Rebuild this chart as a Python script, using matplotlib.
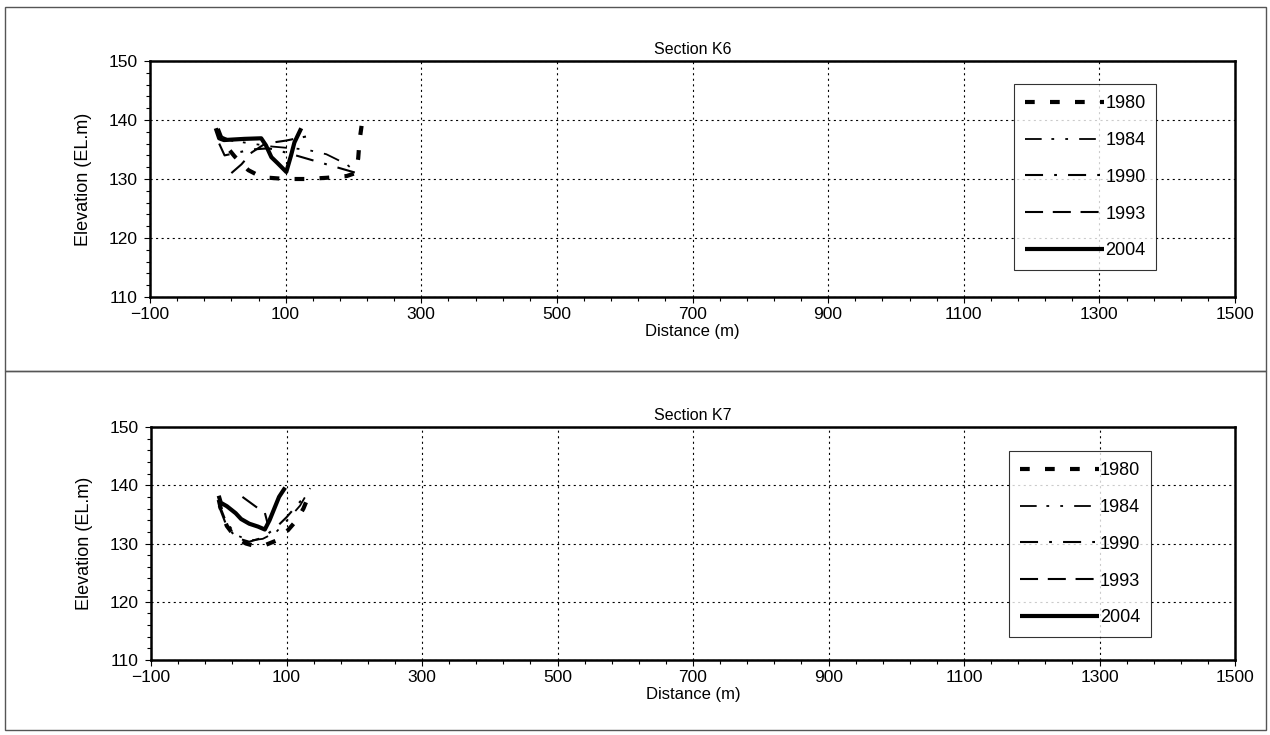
"""
plot.py - Cross sections K6 / K7, surveyed bed profiles per year.
"""

import matplotlib
matplotlib.use("Agg")
import matplotlib.pyplot as plt
from matplotlib import ticker
from matplotlib.patches import Rectangle

plt.rcParams['font.family'] = ['Liberation Sans', 'DejaVu Sans']
plt.rcParams['lines.scale_dashes'] = False

years = ["1980", "1984", "1990", "1993", "2004"]
x_ticks = [-100, 100, 300, 500, 700, 900, 1100, 1300, 1500]

# Section K6 (distance m, elevation m)
k6_1980_x = [0, 5, 15, 25, 45, 65, 100, 130, 160, 190, 203, 207, 209, 212]
k6_1980_y = [138.5, 137, 135.2, 133.8, 131.5, 130.3, 130, 130, 130.2, 130.5, 131, 133.5, 136.5, 139]
k6_1984_x = [0, 20, 50, 80, 100, 130, 160, 190, 205]
k6_1984_y = [137.5, 136.5, 136, 135.5, 135.3, 135, 134.2, 132.5, 131]
k6_1990_x = [2, 10, 30, 50, 75, 100, 130, 160, 190, 205]
k6_1990_y = [136, 134, 134.5, 135, 135.2, 134.5, 133.5, 132.5, 131.5, 131]
k6_1993_x = [20, 35, 50, 70, 100, 130]
k6_1993_y = [131, 132.5, 134.5, 136, 136.5, 137.2]
k6_2004_x = [-3, 2, 9, 39, 64, 71, 79, 88, 101, 108, 113, 123]
k6_2004_y = [138.6, 136.9, 136.6, 136.8, 136.9, 135.7, 133.7, 132.7, 131.2, 134, 136.2, 138.6]

# Section K7
k7_1980_x = [0, 5, 12, 25, 40, 55, 70, 85, 100, 115, 125, 132, 135]
k7_1980_y = [137.5, 135, 133, 131, 130, 129.5, 129.8, 130.5, 132, 134, 136, 138, 139.5]
k7_1984_x = [0, 10, 25, 45, 65, 85, 105, 120, 135]
k7_1984_y = [137, 134, 131.5, 130.5, 130.8, 132, 134.5, 136.5, 139.5]
k7_1990_x = [0, 10, 25, 45, 65, 85, 100, 115, 130]
k7_1990_y = [136.5, 133.5, 131, 130.3, 131, 132.8, 134.5, 136.5, 138.5]
k7_1993_x = [35, 55, 68, 72]
k7_1993_y = [138, 136.3, 135.3, 133.5]
k7_2004_x = [0, 3, 12, 25, 33, 45, 58, 68, 75, 82, 89, 98]
k7_2004_y = [138.2, 137, 136.4, 135.2, 134.2, 133.4, 132.9, 132.4, 134, 136, 138, 139.6]

# line styles per year (width in pt, dash pattern in pt)
styles = {
    "1980": dict(lw=3.0, ls=(0, (7, 11))),
    "1984": dict(lw=1.3, ls=(0, (12, 7, 2, 8, 2, 8))),
    "1990": dict(lw=1.5, ls=(0, (13, 8, 2, 8))),
    "1993": dict(lw=1.5, ls=(0, (13, 7))),
    "2004": dict(lw=3.0, ls="-"),
}


def draw_section(ax, title, series, legend_box, legend_pad):
    for year, (xs, ys) in zip(years, series):
        st = styles[year]
        ax.plot(xs, ys, color="black", linewidth=st["lw"], linestyle=st["ls"],
                label=year, solid_capstyle="butt", dash_capstyle="butt")
    ax.set_xlim(-100, 1500)
    ax.set_ylim(110, 150)
    ax.xaxis.set_major_locator(ticker.FixedLocator(x_ticks))
    ax.xaxis.set_minor_locator(ticker.FixedLocator(list(range(-100, 1501, 40))))
    ax.yaxis.set_major_locator(ticker.MultipleLocator(10))
    ax.yaxis.set_minor_locator(ticker.MultipleLocator(2))
    ax.xaxis.set_major_formatter(ticker.FuncFormatter(lambda v, p: f"{v:.0f}".replace("-", "\u2212")))
    ax.grid(True, which="major", color="black", linestyle=(0, (1.5, 2.5)), linewidth=0.8)
    ax.tick_params(which="both", direction="out", labelsize=12.5, width=0.8)
    ax.tick_params(which="major", length=4)
    ax.tick_params(which="minor", length=3)
    ax.tick_params(axis="y", pad=5)
    for s in ax.spines.values():
        s.set_linewidth(1.8)
    ax.set_title(title, fontsize=11.5, pad=5)
    ax.set_xlabel("Distance (m)", fontsize=12, labelpad=1)
    ax.set_ylabel("Elevation (EL.m)", fontsize=13, labelpad=12)
    leg = ax.legend(loc="upper left", bbox_to_anchor=legend_box, fontsize=13,
                    handlelength=4.4, handletextpad=0.05, labelspacing=1.1,
                    borderpad=legend_pad, frameon=True, fancybox=False)
    leg.get_frame().set_edgecolor("black")
    leg.get_frame().set_linewidth(0.8)


fig = plt.figure(figsize=(12.7, 7.35), dpi=100)

# outer chart-area frames
for y0, y1 in [(7, 371), (371, 730)]:
    fig.add_artist(Rectangle((5 / 1270, 1 - y1 / 735), 1261 / 1270, (y1 - y0) / 735,
                             transform=fig.transFigure, fill=False,
                             edgecolor="#555555", linewidth=1.0))

ax1 = fig.add_axes([150 / 1270, 1 - 297 / 735, 1085 / 1270, 236 / 735])
ax2 = fig.add_axes([151 / 1270, 1 - 660 / 735, 1084 / 1270, 233 / 735])

draw_section(ax1, "Section K6",
             [(k6_1980_x, k6_1980_y), (k6_1984_x, k6_1984_y), (k6_1990_x, k6_1990_y),
              (k6_1993_x, k6_1993_y), (k6_2004_x, k6_2004_y)],
             (0.788, 0.94), 0.6)
draw_section(ax2, "Section K7",
             [(k7_1980_x, k7_1980_y), (k7_1984_x, k7_1984_y), (k7_1990_x, k7_1990_y),
              (k7_1993_x, k7_1993_y), (k7_2004_x, k7_2004_y)],
             (0.783, 0.935), 0.6)

fig.savefig("out.png", dpi=100)
